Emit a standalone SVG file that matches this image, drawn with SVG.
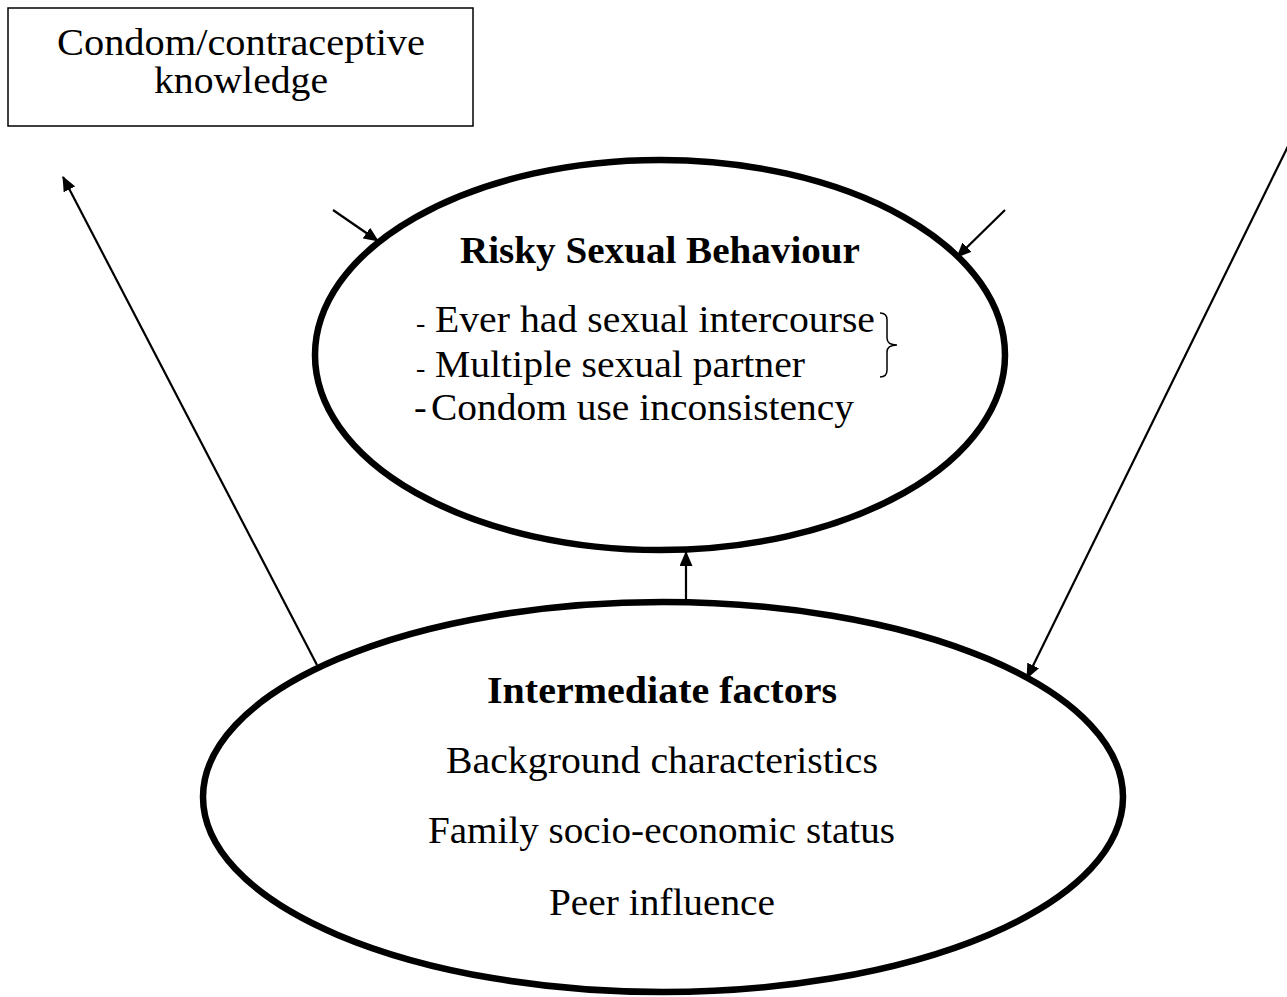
<svg xmlns="http://www.w3.org/2000/svg" width="1287" height="997" viewBox="0 0 1287 997">
<style>
.t{font-family:"Liberation Serif","Times New Roman",serif;font-size:38px;fill:#000}
.b{font-weight:bold}
.e{fill:none;stroke:#000;stroke-width:6.5}
.c{fill:none;stroke:#000;stroke-width:2.2}
</style>
<defs>
<marker id="ah" viewBox="0 0 15 13" markerWidth="15" markerHeight="13" refX="14" refY="6.5" orient="auto" markerUnits="userSpaceOnUse">
<path d="M0,0 L15,6.5 L0,13 z" fill="#000"/>
</marker>
</defs>
<rect width="1287" height="997" fill="#fff"/>
<g id="knowledge">
<rect x="8" y="8" width="465" height="118" fill="#fff" stroke="#000" stroke-width="1.5"/>
<text class="t" x="57" y="55" textLength="368" lengthAdjust="spacingAndGlyphs">Condom/contraceptive</text>
<text class="t" x="154" y="93" textLength="174" lengthAdjust="spacingAndGlyphs">knowledge</text>
</g>
<g id="risky">
<ellipse class="e" cx="660" cy="355" rx="345" ry="195"/>
<text class="t b" x="460" y="263" textLength="400" lengthAdjust="spacingAndGlyphs">Risky Sexual Behaviour</text>
<text class="t" x="416" y="332" style="font-size:28px">-</text>
<text class="t" x="435" y="332" textLength="440" lengthAdjust="spacingAndGlyphs">Ever had sexual intercourse</text>
<text class="t" x="416" y="377" style="font-size:28px">-</text>
<text class="t" x="435" y="377" textLength="370" lengthAdjust="spacingAndGlyphs">Multiple sexual partner</text>
<text class="t" x="414" y="420">-</text>
<text class="t" x="431" y="420" textLength="423" lengthAdjust="spacingAndGlyphs">Condom use inconsistency</text>
<path d="M880,313 Q887,313 887,320 L887,338 Q887,345 897,345 Q887,345 887,352 L887,370 Q887,377 880,377" fill="none" stroke="#000" stroke-width="1.5"/>
</g>
<g id="intermediate">
<ellipse class="e" cx="663" cy="797" rx="460" ry="195"/>
<text class="t b" x="487" y="703" textLength="350" lengthAdjust="spacingAndGlyphs">Intermediate factors</text>
<text class="t" x="446" y="773" textLength="432" lengthAdjust="spacingAndGlyphs">Background characteristics</text>
<text class="t" x="428" y="843" textLength="467" lengthAdjust="spacingAndGlyphs">Family socio-economic status</text>
<text class="t" x="549" y="915" textLength="226" lengthAdjust="spacingAndGlyphs">Peer influence</text>
</g>
<g id="connectors">
<line class="c" x1="317" y1="665" x2="63" y2="177" marker-end="url(#ah)"/>
<line class="c" x1="1292" y1="138" x2="1027" y2="678" marker-end="url(#ah)"/>
<line class="c" x1="333" y1="210" x2="378" y2="241" marker-end="url(#ah)"/>
<line class="c" x1="1005" y1="210" x2="957" y2="257" marker-end="url(#ah)"/>
<line class="c" x1="686" y1="599" x2="686" y2="552" marker-end="url(#ah)"/>
</g>
</svg>
